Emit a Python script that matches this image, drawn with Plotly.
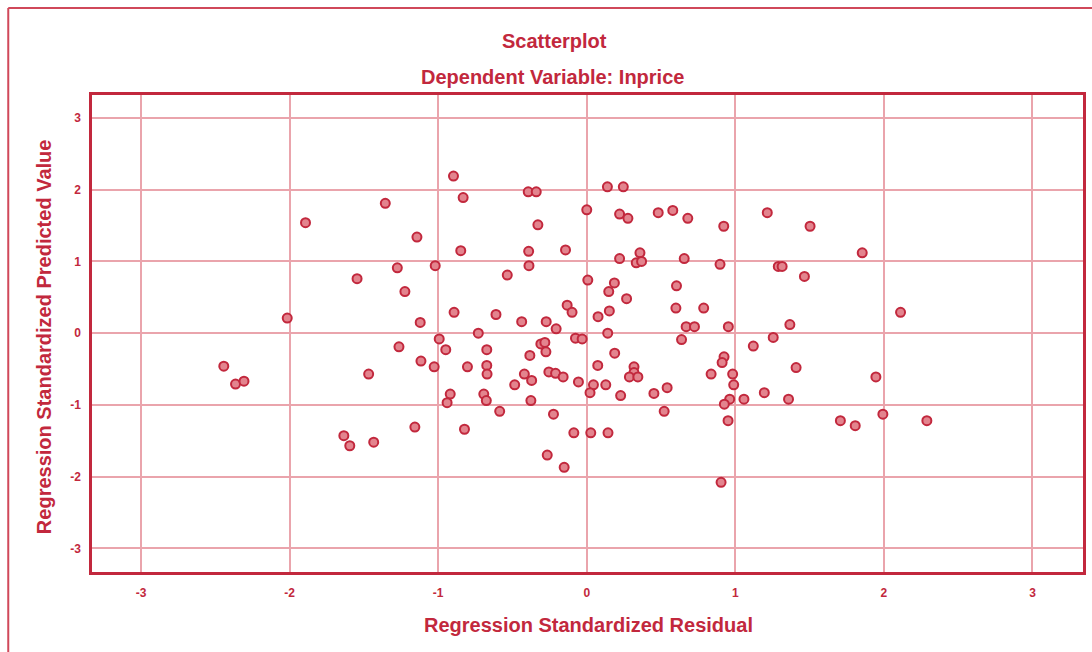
import plotly.graph_objects as go

# Regression standardized residual (x) and standardized predicted value (y)
residual = [
    -1.356, -1.893, -1.143, -1.275, -1.020, -1.546, -1.224, -2.016, -1.121,
    -0.897, -0.832, -0.394, -0.340, 0.139, 0.246, 0.000, 0.221, 0.277, 0.481,
    0.579, 0.680, 0.922, 1.215, -0.329, -0.848, -0.391, -0.143, 0.358, 0.221,
    0.333, 0.369, 0.656, 0.897, -0.389, 1.289, 1.315, -0.535, 0.007, 0.186,
    0.148, 0.604, 0.268, 0.600, 0.787, -0.132, -0.099, 0.152, 0.076, -0.893,
    -0.611, -0.438, -0.273, -0.206, -0.730, 0.141, 0.669, 0.725, 0.953,
    1.503, 1.854, 1.465, 2.112, 1.367, 1.255,
    -2.443, -2.364, -2.307, -1.264, -1.468, -1.116, -1.027, -0.993,
    -1.635, -1.595, -1.434, -1.157,
    -0.949, -0.673, -0.803, -0.673, -0.671, -0.919, -0.940, -0.693, -0.676,
    -0.586, -0.823, -0.485, -0.420, -0.371, -0.383, -0.309, -0.282, -0.275,
    -0.376, -0.255, -0.210, -0.159, -0.076, -0.031, -0.056, -0.224,
    -0.087, 0.027, 0.143, -0.266, -0.152, 0.188, 0.074, 0.045, 0.022, 0.128,
    0.228, 0.318, 0.318, 0.287, 0.344, 0.452, 0.541, 0.521, 0.638, 0.837,
    0.924, 0.911, 0.982, 0.989, 0.962, 0.926, 0.951, 0.904, 1.058, 1.121,
    1.195, 1.409, 1.358, 1.946, 1.707, 1.807, 1.993, 2.289,
]
predicted = [
    1.81, 1.54, 1.34, 0.91, 0.94, 0.76, 0.58, 0.21, 0.15,
    2.19, 1.89, 1.97, 1.97, 2.04, 2.04, 1.72, 1.66, 1.60, 1.68,
    1.71, 1.60, 1.49, 1.68, 1.51, 1.15, 1.14, 1.16, 1.12, 1.04,
    0.98, 1.00, 1.04, 0.96, 0.94, 0.93, 0.93, 0.81, 0.74, 0.70,
    0.58, 0.66, 0.48, 0.35, 0.35, 0.39, 0.29, 0.31, 0.23, 0.29,
    0.26, 0.16, 0.16, 0.06, 0.00, 0.00, 0.09, 0.09, 0.09,
    1.49, 1.12, 0.79, 0.29, 0.12, -0.06,
    -0.46, -0.71, -0.67, -0.19, -0.57, -0.39, -0.47, -0.08,
    -1.43, -1.57, -1.52, -1.31,
    -0.23, -0.23, -0.47, -0.45, -0.57, -0.85, -0.97, -0.85, -0.94,
    -1.09, -1.34, -0.72, -0.57, -0.66, -0.31, -0.15, -0.13, -0.26,
    -0.94, -0.54, -0.56, -0.61, -0.07, -0.08, -0.68, -1.13,
    -1.39, -1.39, -1.39, -1.70, -1.87, -0.28, -0.45, -0.72, -0.83, -0.72,
    -0.87, -0.47, -0.55, -0.61, -0.61, -0.84, -0.76, -1.09, -0.09, -0.57,
    -0.33, -0.41, -0.57, -0.72, -0.92, -0.99, -1.22, -2.08, -0.92, -0.18,
    -0.83, -0.48, -0.92, -0.61, -1.22, -1.29, -1.13, -1.22,
]
tick_vals = [-3, -2, -1, 0, 1, 2, 3]
tick_text = ["-3", "-2", "-1", "0", "1", "2", "3"]

DARK = "#c2283d"
GRID = "#eaa4ac"
FILL = "#e3848e"
FONT = "Liberation Sans, Arial, sans-serif"

# plot-area pixel geometry for paper-coordinate conversions
L, R, T, B = 92, 1086, 95, 572
def px(xp):
    return (xp - L) / (R - L)
def py(yp):
    return (B - yp) / (B - T)

fig = go.Figure()
fig.add_trace(go.Scatter(
    x=residual, y=predicted, mode="markers",
    marker=dict(size=9, color=FILL, line=dict(color=DARK, width=2)),
    showlegend=False, hoverinfo="x+y",
))

axis_common = dict(
    tickvals=tick_vals, ticktext=tick_text, showgrid=True, gridcolor=GRID,
    gridwidth=1.5, zeroline=False, showline=True, linecolor=DARK, linewidth=2.5,
    mirror=True, ticks="", tickfont=dict(family=FONT, size=12, color=DARK, weight="bold"),
)

def ann(text, x, y, angle=0):
    return dict(text=f"<b>{text}</b>", x=px(x), y=py(y), xref="paper", yref="paper",
                xanchor="center", yanchor="middle", showarrow=False, textangle=angle,
                font=dict(size=20, family=FONT, color=DARK))

fig.update_layout(
    width=1092, height=652,
    margin=dict(l=L, r=1092 - R, t=T, b=652 - B),
    paper_bgcolor="white", plot_bgcolor="white",
    font=dict(family=FONT, color=DARK),
    xaxis=dict(**axis_common, range=[-3.33, 3.34], ticklabelstandoff=8),
    yaxis=dict(**axis_common, range=[-3.33, 3.32], ticklabelstandoff=6),
    annotations=[
        ann("Scatterplot", 556, 41),
        ann("Dependent Variable: Inprice", 554, 77),
        ann("Regression Standardized Residual", 590, 625),
        ann("Regression Standardized Predicted Value", 44, 337, -90),
    ],
    shapes=[
        dict(type="line", xref="paper", yref="paper", x0=px(8), x1=px(1100), y0=py(8), y1=py(8),
             line=dict(color="#d0485a", width=2)),
        dict(type="line", xref="paper", yref="paper", x0=px(8), x1=px(8), y0=py(8), y1=py(660),
             line=dict(color="#d0485a", width=2)),
    ],
)

fig.write_html("out.html", config={"displayModeBar": False},
               post_script="document.body.style.margin='0';")
